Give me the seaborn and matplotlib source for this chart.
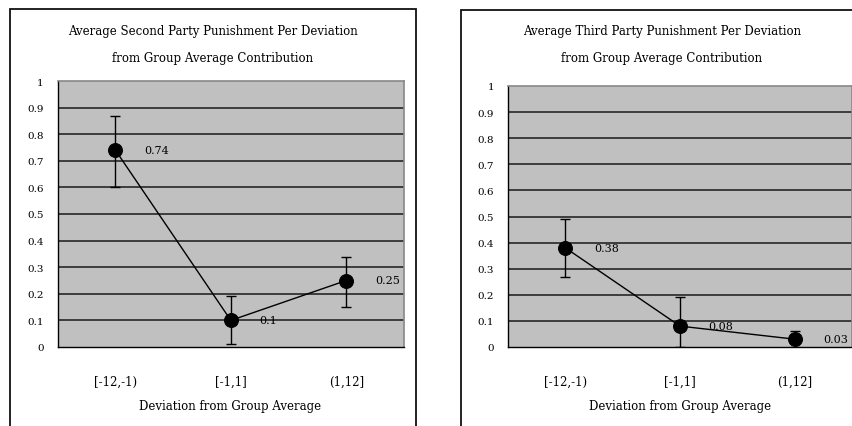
import numpy as np
import pandas as pd
import matplotlib
matplotlib.use("Agg")
import matplotlib.pyplot as plt
import seaborn as sns
from matplotlib.patches import Rectangle

categories = ["[-12,-1)", "[-1,1]", "(1,12]"]
second_vals = [0.74, 0.10, 0.25]
second_lo = [0.60, 0.01, 0.15]
second_hi = [0.87, 0.19, 0.34]
third_vals = [0.38, 0.08, 0.03]
third_lo = [0.27, 0.00, 0.00]
third_hi = [0.49, 0.19, 0.06]
yticks = [0, 0.1, 0.2, 0.3, 0.4, 0.5, 0.6, 0.7, 0.8, 0.9, 1]
ytick_labels = ["0", "0.1", "0.2", "0.3", "0.4", "0.5", "0.6", "0.7", "0.8", "0.9", "1"]
value_labels_second = ["0.74", "0.1", "0.25"]
value_labels_third = ["0.38", "0.08", "0.03"]
titles = [("Average Second Party Punishment Per Deviation", "from Group Average Contribution"),
          ("Average Third Party Punishment Per Deviation", "from Group Average Contribution")]
xlabel = "Deviation from Group Average"

sns.set_style("white")
plt.rcParams['font.family'] = ['DejaVu Serif']
plt.rcParams['text.color'] = 'black'
plt.rcParams['xtick.color'] = 'black'
plt.rcParams['ytick.color'] = 'black'

W, H = 853, 427
fig = plt.figure(figsize=(W / 100, H / 100), dpi=100)

def fx(px):
    return px / W

def fy(py):
    return 1 - py / H

# outer frames
fig.patches.append(Rectangle((fx(10), fy(440)), fx(416) - fx(10), fy(10) - fy(440),
                             transform=fig.transFigure, fill=False, edgecolor="#111111", lw=1.3))
fig.patches.append(Rectangle((fx(461), fy(440)), fx(870) - fx(461), fy(11) - fy(440),
                             transform=fig.transFigure, fill=False, edgecolor="#111111", lw=1.3))

panels = [
    dict(vals=second_vals, lo=second_lo, hi=second_hi, labels=value_labels_second,
         rect=(57.7, 82, 404, 348), title=titles[0], tx=213, xlx=230),
    dict(vals=third_vals, lo=third_lo, hi=third_hi, labels=value_labels_third,
         rect=(508, 87, 852, 348), title=titles[1], tx=662, xlx=680),
]

for p in panels:
    x0, y0, x1, y1 = p["rect"]
    ax = fig.add_axes([fx(x0), fy(y1), fx(x1) - fx(x0), fy(y0) - fy(y1)])
    ax.set_facecolor("#c0c0c0")
    pos = np.arange(len(categories))
    df = pd.DataFrame({"pos": pos, "val": p["vals"]})
    vals = np.array(p["vals"])
    yerr = np.vstack([vals - np.array(p["lo"]), np.array(p["hi"]) - vals])
    ax.errorbar(pos, vals, yerr=yerr, fmt="none", ecolor="black", elinewidth=1.0,
                capsize=3.8, capthick=1.0, zorder=3)
    sns.lineplot(data=df, x="pos", y="val", ax=ax, color="black", lw=1.0,
                 marker="o", markersize=10, markeredgecolor="black",
                 markerfacecolor="black", zorder=4)
    for xi, v, lab in zip(pos, vals, p["labels"]):
        ax.text(xi + 0.25, v, lab, fontsize=8, va="center", ha="left", zorder=5)
    ax.set_xlim(-0.5, len(categories) - 0.5)
    ax.set_ylim(0, 1)
    ax.set_yticks(yticks)
    ax.set_yticklabels(ytick_labels, fontsize=7.5)
    for yv in yticks[1:-1]:
        ax.axhline(yv, color="#1a1a1a", lw=1.1, zorder=1)
    ax.set_xticks(np.arange(-0.5, len(categories)), labels=[""] * (len(categories) + 1))
    ax.set_xticks(pos, labels=categories, minor=True, fontsize=8.5)
    ax.tick_params(axis="x", which="major", direction="out", length=5, width=1, color="black")
    ax.tick_params(axis="x", which="minor", length=0, pad=20)
    ax.tick_params(axis="y", direction="out", length=5, width=1, color="black", pad=5)
    ax.set_xlabel("")
    ax.set_ylabel("")
    for s in ["left", "bottom"]:
        ax.spines[s].set_color("black")
        ax.spines[s].set_linewidth(1.0)
    for s in ["top", "right"]:
        ax.spines[s].set_color("#888888")
        ax.spines[s].set_linewidth(1.2)
    fig.text(fx(p["tx"]), fy(32), p["title"][0], ha="center", va="center", fontsize=8.5)
    fig.text(fx(p["tx"]), fy(59), p["title"][1], ha="center", va="center", fontsize=8.5)
    fig.text(fx(p["xlx"]), fy(407), xlabel, ha="center", va="center", fontsize=8.5)

fig.savefig("out.png", dpi=100)
